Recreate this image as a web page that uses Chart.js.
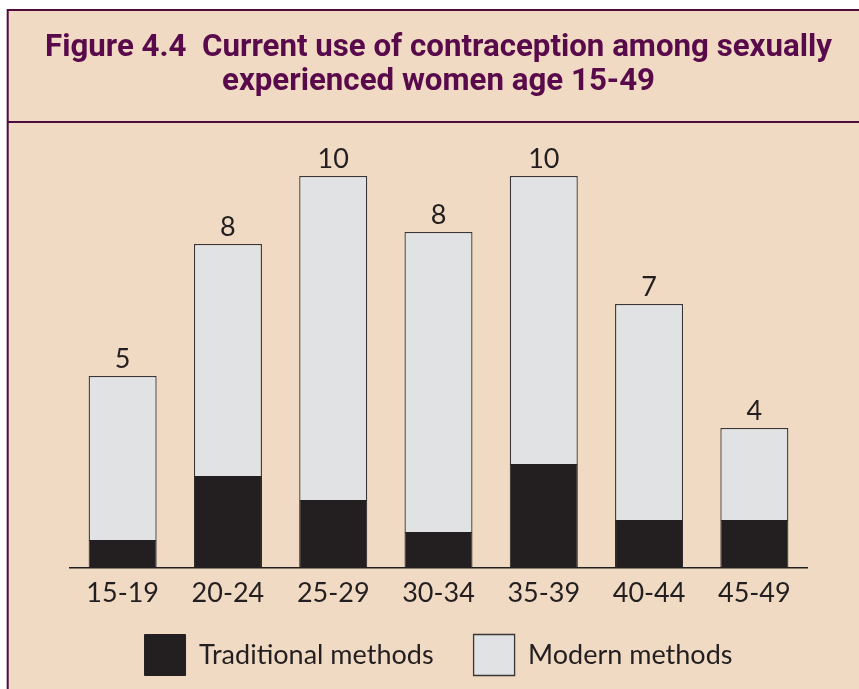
<!DOCTYPE html>
<html>
<head>
<meta charset="utf-8">
<style>
  body { margin: 0; background: #fff; }
</style>
<script src="https://cdn.jsdelivr.net/npm/chart.js@4/dist/chart.umd.min.js"></script>
</head>
<body>
<canvas id="contraceptionChart" width="859" height="689"></canvas>
<script>
// Figure 4.4 data (percent of sexually experienced women)
const ageGroups = ['15-19', '20-24', '25-29', '30-34', '35-39', '40-44', '45-49'];
const traditionalValues = [0.7, 2.3, 1.7, 0.9, 2.6, 1.2, 1.2];
const modernValues = [4.1, 5.8, 8.1, 7.5, 7.2, 5.4, 2.3];
const totalLabels = ['5', '8', '10', '8', '10', '7', '4'];

const titleLines = [
    'Figure 4.4  Current use of contraception among sexually',
    'experienced women age 15-49'
];

const peach = '#f0dac3';
const plum = '#4f0b3e';
const ink = '#231f20';

// frame: peach panel, plum border, title and rule under it
const framePlugin = {
    id: 'frame',
    beforeDraw(chart) {
        const ctx = chart.ctx;
        ctx.save();
        ctx.fillStyle = peach;
        ctx.fillRect(7, 9, chart.width - 7, chart.height - 9);
        ctx.strokeStyle = plum;
        ctx.lineWidth = 2;
        ctx.beginPath();
        ctx.moveTo(7.7, chart.height);
        ctx.lineTo(7.7, 10);
        ctx.lineTo(chart.width, 10);
        ctx.moveTo(7, 122);
        ctx.lineTo(chart.width, 122);
        ctx.stroke();

        // condensed bold title, squeezed to the original line widths
        ctx.fillStyle = '#580a4a';
        ctx.font = 'bold 32px Roboto';
        ctx.textAlign = 'center';
        ctx.textBaseline = 'alphabetic';
        ctx.fillText(titleLines[0], 438.5, 56, 787);
        ctx.fillText(titleLines[1], 438.5, 90, 433);
        ctx.restore();
    }
};

// totals written above each bar
const totalsPlugin = {
    id: 'totals',
    afterDatasetsDraw(chart) {
        const ctx = chart.ctx;
        const meta = chart.getDatasetMeta(1);
        ctx.save();
        ctx.fillStyle = ink;
        ctx.font = '27px Lato';
        ctx.textAlign = 'center';
        ctx.textBaseline = 'alphabetic';
        meta.data.forEach((bar, i) => {
            ctx.fillText(totalLabels[i], bar.x, bar.y - 8);
        });
        ctx.restore();
    }
};

const ctx = document.getElementById('contraceptionChart').getContext('2d');
const contraceptionChart = new Chart(ctx, {
    type: 'bar',
    data: {
        labels: ageGroups,
        datasets: [{
            label: 'Traditional methods',
            data: traditionalValues,
            backgroundColor: ink,
            borderColor: ink,
            borderWidth: 1
        }, {
            label: 'Modern methods',
            data: modernValues,
            backgroundColor: '#e1e2e4',
            borderColor: '#3a3637',
            borderWidth: 1.3
        }]
    },
    options: {
        responsive: false,
        animation: false,
        layout: {
            padding: { left: 70, right: 52, top: 128, bottom: 3.5 }
        },
        datasets: {
            bar: { categoryPercentage: 1, barPercentage: 0.646 }
        },
        plugins: {
            title: { display: false },
            legend: {
                position: 'bottom',
                labels: {
                    boxWidth: 41,
                    boxHeight: 41,
                    padding: 40,
                    color: ink,
                    font: { family: 'Lato', size: 27 }
                }
            },
            tooltip: { enabled: false }
        },
        scales: {
            x: {
                stacked: true,
                grid: { display: false, drawTicks: false },
                border: { display: true, color: ink, width: 1.5 },
                ticks: {
                    color: ink,
                    // mirrored with negative padding so labels sit below the
                    // short axis box without being clipped
                    mirror: true,
                    padding: -41,
                    font: { family: 'Lato', size: 27 }
                },
                afterFit(scale) { scale.height = 26.5; }
            },
            y: {
                stacked: true,
                display: false,
                min: 0,
                max: 11
            }
        }
    },
    plugins: [framePlugin, totalsPlugin]
});
</script>
</body>
</html>
